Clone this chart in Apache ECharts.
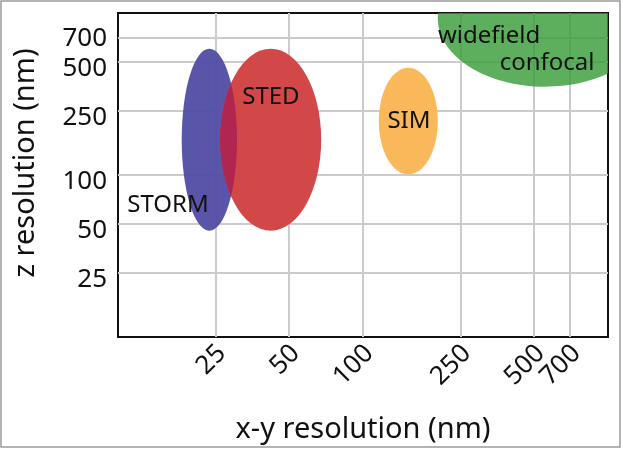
<!DOCTYPE html>
<html>
<head>
<meta charset="utf-8">
<script src="https://cdn.jsdelivr.net/npm/echarts@6/dist/echarts.min.js"></script>
<style>html,body{margin:0;padding:0;background:#fff}#c{width:623px;height:449px}</style>
</head>
<body>
<div id="c"></div>
<script>
// Tick values (nm) for both log axes
const xTicks = [25, 50, 100, 250, 500, 700];
const yTicks = [25, 50, 100, 250, 500, 700];

// Ellipse extents: [xMin, xMax, zMin, zMax] in nm
const techniques = ['STORM', 'STED', 'SIM', 'widefield confocal'];
const xyMin = [18.2, 26.1, 116, 202];
const xyMax = [30.6, 67.5, 202, 1514];
const zMin  = [45.3, 45.3, 101, 351];
const zMax  = [601, 601, 460, 2460];

// Text labels and their anchor positions (nm)
const labelTexts = ['STORM', 'STED', 'SIM', 'widefield', 'confocal'];
const labelX = [16.0, 42.1, 154, 327, 564];
const labelY = [65.5, 301, 214, 723, 493];

const fills = ['rgba(80,76,164,0.95)', '#d24848', '#f9b95b', 'rgba(52,154,52,0.8)'];
const overlapFill = '#b02650';
const FONT = '"Noto Sans", "Open Sans", sans-serif';

// x tick labels are split over two identical axes so that the close,
// rotated 500 / 700 labels are both kept
const xTicksA = xTicks.filter((_, i) => i % 2 === 0);
const xTicksB = xTicks.filter((_, i) => i % 2 === 1);

function ellipseShape(api, a, b, c, d) {
  const p0 = api.coord([a, c]);
  const p1 = api.coord([b, d]);
  return {
    cx: (p0[0] + p1[0]) / 2,
    cy: (p0[1] + p1[1]) / 2,
    rx: Math.abs(p1[0] - p0[0]) / 2,
    ry: Math.abs(p1[1] - p0[1]) / 2
  };
}

const ellipseData = techniques.map((t, i) => ({ name: t, value: [xyMin[i], xyMax[i], zMin[i], zMax[i], i] }));
// overlap of STORM (0) and STED (1)
const overlapData = [[xyMin[0], xyMax[0], zMin[0], zMax[0], xyMin[1], xyMax[1], zMin[1], zMax[1]]];
const labelData = labelTexts.map((t, i) => ({ name: t, value: [labelX[i], labelY[i]] }));

const xLabelStyle = {
  rotate: 45, margin: 6, verticalAlign: 'top',
  interval: 0, hideOverlap: false,
  fontSize: 26, lineHeight: 18, color: '#111', fontFamily: FONT
};

const chart = echarts.init(document.getElementById('c'), null, { renderer: 'canvas' });
chart.setOption({
  animation: false,
  backgroundColor: '#fff',
  graphic: [{
    type: 'rect', z: -10,
    shape: { x: 1, y: 1, width: 619, height: 446 },
    style: { fill: 'none', stroke: '#9a9a9a', lineWidth: 1.5 }
  }],
  grid: {
    left: 118, top: 13, right: 15, bottom: 110,
    show: true, borderColor: '#111', borderWidth: 2, backgroundColor: 'transparent'
  },
  xAxis: [{
    type: 'log', logBase: 10, min: 10, max: 1000, position: 'bottom',
    name: 'x-y resolution (nm)', nameLocation: 'middle', nameGap: 78,
    nameTextStyle: { fontSize: 29, color: '#111', fontFamily: FONT },
    axisLine: { show: false },
    axisTick: { show: false, customValues: xTicks },
    splitLine: { show: true, lineStyle: { color: '#cbcbcb', width: 2 } },
    axisLabel: Object.assign({ customValues: xTicksA }, xLabelStyle)
  }, {
    type: 'log', logBase: 10, min: 10, max: 1000, position: 'bottom', offset: 0,
    axisLine: { show: false },
    axisTick: { show: false, customValues: xTicksB },
    splitLine: { show: false },
    axisLabel: Object.assign({ customValues: xTicksB }, xLabelStyle)
  }],
  yAxis: {
    type: 'log', logBase: 10, min: 10, max: 1000,
    name: 'z resolution (nm)', nameLocation: 'middle', nameGap: 78,
    nameTextStyle: { fontSize: 29, color: '#111', fontFamily: FONT, padding: [0, 0, 0, 24] },
    axisLine: { show: false },
    axisTick: { show: false, customValues: yTicks },
    splitLine: { show: true, lineStyle: { color: '#cbcbcb', width: 2 } },
    axisLabel: {
      customValues: yTicks, margin: 11, interval: 0, hideOverlap: false,
      formatter: v => (v === 700 ? '{a|' + v + '}' : '{b|' + v + '}'),
      rich: {
        a: { fontSize: 26, color: '#111', fontFamily: FONT },
        b: { fontSize: 26, color: '#111', fontFamily: FONT, padding: [14, 0, 0, 0] }
      }
    }
  },
  series: [
    {
      type: 'custom', name: 'ellipses', clip: true, xAxisIndex: 0,
      encode: { x: [0, 1], y: [2, 3] },
      data: ellipseData,
      renderItem: function (params, api) {
        const i = api.value(4);
        return {
          type: 'ellipse',
          shape: ellipseShape(api, api.value(0), api.value(1), api.value(2), api.value(3)),
          style: { fill: fills[i] }
        };
      }
    },
    {
      type: 'custom', name: 'overlap', clip: true, xAxisIndex: 0,
      encode: { x: [0, 1], y: [2, 3] },
      data: overlapData,
      renderItem: function (params, api) {
        const a = ellipseShape(api, api.value(0), api.value(1), api.value(2), api.value(3));
        const b = ellipseShape(api, api.value(4), api.value(5), api.value(6), api.value(7));
        return {
          type: 'group',
          clipPath: { type: 'ellipse', shape: b },
          children: [{ type: 'ellipse', shape: a, style: { fill: overlapFill } }]
        };
      }
    },
    {
      type: 'custom', name: 'labels', clip: false, xAxisIndex: 0,
      encode: { x: 0, y: 1 },
      data: labelData,
      renderItem: function (params, api) {
        const p = api.coord([api.value(0), api.value(1)]);
        return {
          type: 'text', x: p[0], y: p[1],
          style: {
            text: labelTexts[params.dataIndex], fill: '#111',
            font: '24px ' + FONT, align: 'center', verticalAlign: 'middle'
          }
        };
      }
    }
  ]
});
</script>
</body>
</html>
